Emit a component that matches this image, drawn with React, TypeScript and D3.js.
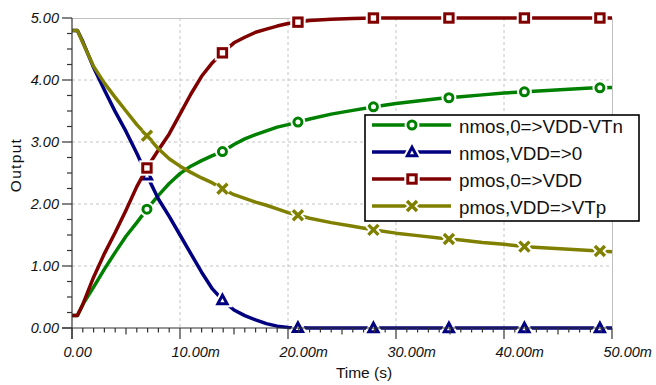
import React from "react";
import * as d3 from "d3";

// ---- data (time in ms, output in V) ----
const timeMs = [0, 0.5, 1, 2, 3, 4, 5, 6, 7, 8, 9, 10, 11, 12, 13, 14, 15, 16, 17, 18, 19, 20, 22, 24, 26, 28, 30, 32, 34, 36, 38, 40, 42, 44, 46, 48, 50];
const nmosRise = [0.2, 0.2, 0.38, 0.66, 0.95, 1.22, 1.48, 1.7, 1.93, 2.14, 2.33, 2.49, 2.61, 2.7, 2.78, 2.85, 2.96, 3.05, 3.12, 3.18, 3.24, 3.28, 3.37, 3.45, 3.51, 3.57, 3.62, 3.66, 3.7, 3.73, 3.76, 3.79, 3.81, 3.83, 3.85, 3.87, 3.88];
const nmosFall = [4.8, 4.8, 4.62, 4.2, 3.84, 3.49, 3.17, 2.82, 2.44, 2.08, 1.8, 1.5, 1.2, 0.9, 0.63, 0.44, 0.29, 0.2, 0.13, 0.07, 0.03, 0.01, 0, 0, 0, 0, 0, 0, 0, 0, 0, 0, 0, 0, 0, 0, 0];
const pmosRise = [0.2, 0.2, 0.38, 0.82, 1.2, 1.54, 1.9, 2.28, 2.6, 2.87, 3.13, 3.45, 3.77, 4.06, 4.28, 4.45, 4.6, 4.69, 4.77, 4.82, 4.87, 4.91, 4.96, 4.98, 4.99, 5, 5, 5, 5, 5, 5, 5, 5, 5, 5, 5, 5];
const pmosFall = [4.8, 4.8, 4.6, 4.22, 3.95, 3.72, 3.5, 3.28, 3.09, 2.89, 2.73, 2.61, 2.51, 2.42, 2.34, 2.24, 2.15, 2.09, 2.03, 1.98, 1.92, 1.86, 1.77, 1.7, 1.64, 1.58, 1.53, 1.49, 1.45, 1.42, 1.38, 1.35, 1.31, 1.29, 1.27, 1.25, 1.23];
const markerTimesMs = [6.94, 13.93, 20.92, 27.91, 34.9, 41.89, 48.88];

const seriesNames = ["nmos,0=>VDD-VTn", "nmos,VDD=>0", "pmos,0=>VDD", "pmos,VDD=>VTp"];
const seriesValues = [nmosRise, nmosFall, pmosRise, pmosFall];
const seriesColors = ["#008000", "#000080", "#800000", "#808000"];
const seriesShapes = ["circle", "triangle", "square", "cross"];

const yTicks = [0, 1, 2, 3, 4, 5];
const yTickLabels = ["0.00", "1.00", "2.00", "3.00", "4.00", "5.00"];
const xTicksMs = [0, 10, 20, 30, 40, 50];
const xTickLabels = ["0.00", "10.00m", "20.00m", "30.00m", "40.00m", "50.00m"];

const FONT = "'Liberation Sans', Arial, Helvetica, sans-serif";

function interp(vals: number[], t: number) {
  const i = d3.bisectRight(timeMs, t) - 1;
  if (i >= timeMs.length - 1) return vals[vals.length - 1];
  const f = (t - timeMs[i]) / (timeMs[i + 1] - timeMs[i]);
  return vals[i] + f * (vals[i + 1] - vals[i]);
}

function Marker({ shape, color, x, y }: { shape: string; color: string; x: number; y: number }) {
  const draw = (stroke: string, sw: number, fill: string, key: string) => {
    if (shape === "circle")
      return <circle key={key} cx={x} cy={y} r={4} fill={fill} stroke={stroke} strokeWidth={sw} />;
    if (shape === "square")
      return <rect key={key} x={x - 4.2} y={y - 4.2} width={8.4} height={8.4} fill={fill} stroke={stroke} strokeWidth={sw} />;
    if (shape === "triangle")
      return (
        <path key={key} d={`M${x},${y - 4.8}L${x + 4.6},${y + 3.8}L${x - 4.6},${y + 3.8}Z`} fill={fill} stroke={stroke} strokeWidth={sw} strokeLinejoin="miter" />
      );
    return (
      <path key={key} d={`M${x - 5},${y - 5}L${x + 5},${y + 5}M${x - 5},${y + 5}L${x + 5},${y - 5}`} fill="none" stroke={stroke} strokeWidth={sw} />
    );
  };
  const sw = shape === "cross" ? 3.4 : 3;
  return (
    <g>
      {draw("#fff", sw + 4, "#fff", "halo")}
      {draw(color, sw, "#fff", "main")}
    </g>
  );
}

export default function App() {
  const x = d3.scaleLinear().domain([0, 50]).range([72, 612]);
  const y = d3.scaleLinear().domain([0, 5]).range([328, 18]);
  const line = d3
    .line<number>()
    .x((_, i) => x(timeMs[i]))
    .y((d) => y(d))
    .curve(d3.curveLinear);

  const yMinor = d3.range(0, 5.0001, 0.25);
  const xMinor = d3.range(0, 50.0001, 1);

  const legX = 365, legY = 115, legW = 274, legH = 106;
  const rowY = [125, 152, 179, 206];

  return (
    <svg width={656} height={385} style={{ position: "absolute", left: 0, top: 0, background: "#fff" }} fontFamily={FONT}>
      <rect x={0} y={0} width={656} height={385} fill="#fff" />
      {/* grid */}
      {yTicks.slice(1, -1).map((v) => (
        <line key={"gy" + v} x1={72} x2={612} y1={y(v)} y2={y(v)} stroke="#c4c4c4" strokeWidth={1} strokeDasharray="3,3" />
      ))}
      {xTicksMs.slice(1, -1).map((v) => (
        <line key={"gx" + v} x1={x(v)} x2={x(v)} y1={18} y2={328} stroke="#c4c4c4" strokeWidth={1} strokeDasharray="3,3" />
      ))}
      {/* top and right border */}
      <line x1={72} x2={612} y1={18.5} y2={18.5} stroke="#c0c0c0" strokeWidth={1} />
      <line x1={612.5} x2={612.5} y1={18} y2={328} stroke="#c0c0c0" strokeWidth={1} />

      {/* series */}
      {seriesValues.map((vals, si) => (
        <g key={"s" + si}>
          <path d={line(vals) || ""} fill="none" stroke={seriesColors[si]} strokeWidth={3.5} strokeLinejoin="round" />
          {markerTimesMs.map((t, mi) => (
            <Marker key={mi} shape={seriesShapes[si]} color={seriesColors[si]} x={x(t)} y={y(interp(vals, t))} />
          ))}
        </g>
      ))}

      {/* axes */}
      <g stroke="#333" strokeWidth={1.2}>
        <line x1={72} x2={72} y1={18} y2={339} />
        <line x1={62} x2={612} y1={328} y2={328} />
        {yMinor.map((v) => {
          const major = Math.abs(v - Math.round(v)) < 1e-6;
          return <line key={"ym" + v} x1={major ? 62 : 67} x2={72} y1={y(v)} y2={y(v)} />;
        })}
        {xMinor.map((v) => {
          const major = v % 10 === 0;
          const mid = v % 5 === 0;
          return <line key={"xm" + v} x1={x(v)} x2={x(v)} y1={328} y2={major ? 339 : mid ? 334.5 : 332.5} />;
        })}
      </g>
      {yTicks.map((v, i) => (
        <text key={"yl" + v} x={59} y={y(v) + 5} textAnchor="end" fontSize={14.5} fontStyle="italic" fill="#111">
          {yTickLabels[i]}
        </text>
      ))}
      {xTicksMs.map((v, i) => (
        <text key={"xl" + v} x={x(v) - 8.5} y={357} textAnchor="start" fontSize={14.5} fontStyle="italic" fill="#111">
          {xTickLabels[i]}
        </text>
      ))}
      <text x={364} y={378} textAnchor="middle" fontSize={15.5} fill="#111">
        Time (s)
      </text>
      <text transform="translate(21,165) rotate(-90)" textAnchor="middle" fontSize={15.5} letterSpacing={1.3} fill="#111">
        Output
      </text>

      {/* legend */}
      <rect x={legX} y={legY} width={legW} height={legH} fill="#fff" stroke="#000" strokeWidth={1.6} />
      {seriesNames.map((name, i) => (
        <g key={"lg" + i}>
          <line x1={372} x2={451} y1={rowY[i]} y2={rowY[i]} stroke={seriesColors[i]} strokeWidth={3.5} />
          <Marker shape={seriesShapes[i]} color={seriesColors[i]} x={412} y={rowY[i]} />
          <text x={459} y={rowY[i] + 7.5} fontSize={18.8} fill="#111">
            {name}
          </text>
        </g>
      ))}
    </svg>
  );
}
